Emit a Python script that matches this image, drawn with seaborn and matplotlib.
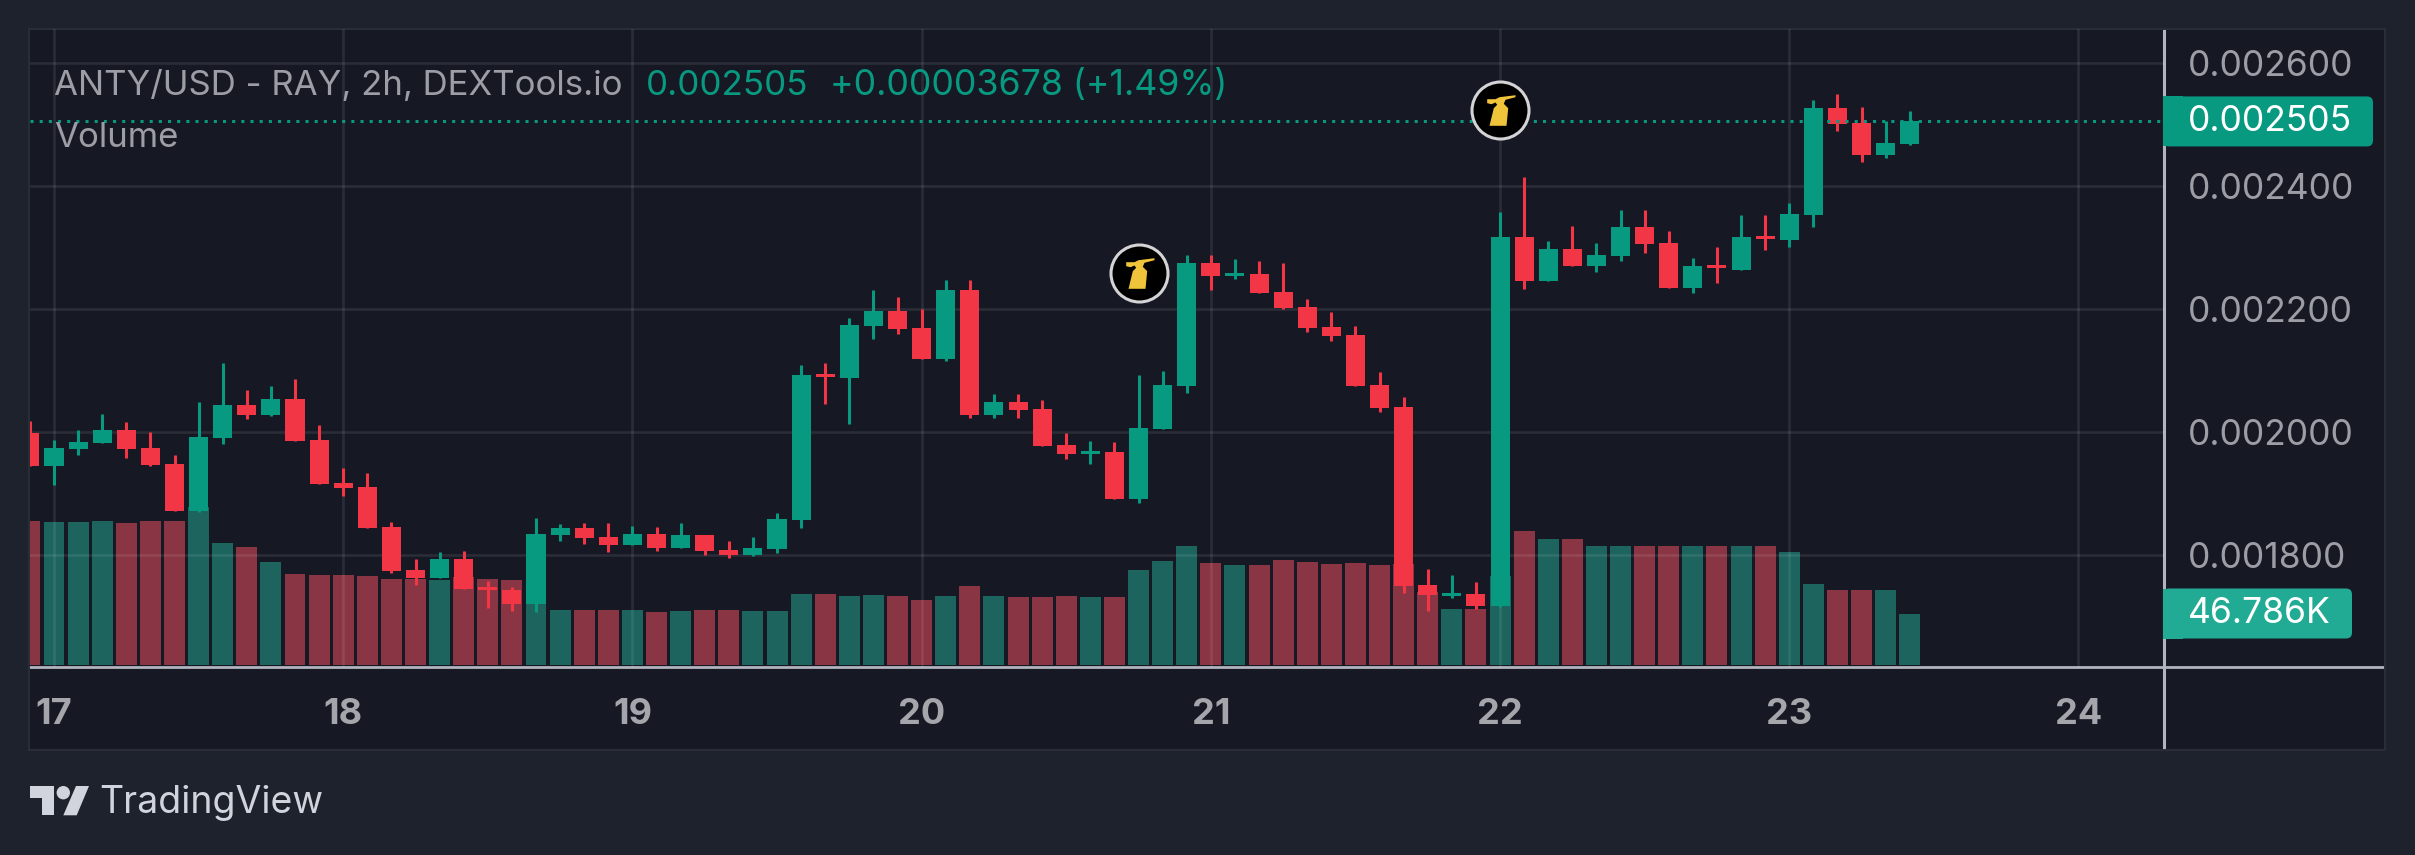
import numpy as np
import pandas as pd
import matplotlib
matplotlib.use("Agg")
import matplotlib.pyplot as plt
import seaborn as sns
from matplotlib.patches import FancyBboxPatch, Polygon, Circle
from matplotlib.path import Path
from matplotlib.transforms import IdentityTransform
from matplotlib.ticker import FuncFormatter

# --------------------------
# Data (prices in 1e-6 USD, volume in K)
# --------------------------
candle_x = list(range(-1, 78))

opens = [1998.4, 1944.8, 1972.4, 1982.2, 2003.3, 1974.0, 1948.0, 1871.6, 1990.3, 2044.0, 2027.7,
         2053.7, 1987.0, 1917.1, 1910.6, 1845.6, 1775.7, 1762.7, 1793.5, 1748.0, 1743.1, 1720.4,
         1832.6, 1844.0, 1829.3, 1816.3, 1834.2, 1811.4, 1832.6, 1808.2, 1800.1, 1809.8, 1857.0,
         2094.3, 2087.8, 2172.4, 2196.8, 2169.1, 2118.7, 2230.9, 2027.7, 2048.8, 2037.4, 1978.9,
         1964.2, 1967.5, 1891.1, 2004.9, 2074.8, 2274.8, 2253.7, 2256.9, 2227.6, 2203.3, 2170.7,
         2157.7, 2076.4, 2040.7, 1751.2, 1733.4, 1736.6, 1716.9, 2316.8, 2245.5, 2297.5, 2269.9,
         2286.0, 2333.6, 2307.2, 2233.9, 2271.8, 2263.5, 2318.8, 2312.3, 2352.8, 2527.1, 2502.7,
         2450.6, 2468.6]
closes = [1944.8, 1974.0, 1983.8, 2003.3, 1972.4, 1946.4, 1871.6, 1991.9, 2044.0, 2027.7, 2053.7,
          1985.4, 1915.5, 1909.0, 1844.0, 1774.0, 1762.7, 1793.5, 1744.8, 1743.1, 1720.4, 1834.2,
          1844.0, 1827.7, 1816.3, 1834.2, 1811.4, 1832.6, 1806.6, 1800.1, 1811.4, 1858.6, 2092.7,
          2089.4, 2174.0, 2196.8, 2167.5, 2118.7, 2230.9, 2027.7, 2048.8, 2035.8, 1977.2, 1964.2,
          1969.1, 1891.1, 2006.5, 2076.4, 2274.8, 2253.7, 2258.5, 2226.0, 2201.6, 2169.1, 2156.1,
          2074.8, 2039.0, 1749.6, 1735.0, 1738.2, 1717.1, 2316.8, 2245.5, 2297.5, 2269.9, 2287.9,
          2333.6, 2305.9, 2233.9, 2269.9, 2267.3, 2316.8, 2313.6, 2354.8, 2527.1, 2501.4, 2450.6,
          2469.9, 2505.0]
highs = [2017.9, 1987.0, 2003.3, 2029.3, 2016.3, 2000.0, 1962.6, 2048.8, 2111.4, 2068.3, 2074.8,
         2086.0, 2011.4, 1941.5, 1933.4, 1853.7, 1793.5, 1804.9, 1806.6, 1757.8, 1748.0, 1860.2,
         1850.5, 1852.1, 1852.1, 1847.2, 1845.6, 1852.1, 1832.6, 1822.8, 1829.3, 1868.3, 2109.0,
         2112.2, 2185.4, 2230.9, 2219.5, 2200.0, 2247.2, 2247.2, 2061.8, 2061.8, 2052.0, 1998.4,
         1985.4, 1983.8, 2092.7, 2099.2, 2287.8, 2287.8, 2281.3, 2278.1, 2274.8, 2216.3, 2195.1,
         2172.4, 2097.6, 2056.9, 1777.2, 1767.5, 1756.1, 2358.0, 2414.6, 2310.4, 2334.8, 2307.2,
         2361.2, 2361.2, 2327.1, 2282.8, 2300.8, 2352.8, 2352.8, 2372.1, 2540.0, 2549.6, 2528.4,
         2505.2, 2522.0]
lows = [1944.8, 1913.9, 1962.6, 1982.2, 1957.8, 1944.8, 1871.6, 1870.0, 1980.5, 2021.2, 2026.1,
        1985.4, 1915.5, 1896.0, 1844.0, 1770.8, 1751.3, 1762.7, 1744.8, 1713.9, 1709.0, 1707.4,
        1822.8, 1817.9, 1804.9, 1816.3, 1806.6, 1811.4, 1800.1, 1795.2, 1798.4, 1803.3, 1843.9,
        2045.5, 2013.0, 2151.2, 2159.4, 2118.7, 2115.5, 2022.8, 2022.8, 2022.8, 1977.2, 1956.1,
        1948.0, 1891.1, 1884.6, 2004.9, 2063.4, 2230.9, 2248.8, 2226.0, 2200.0, 2162.6, 2148.0,
        2074.8, 2032.5, 1738.2, 1709.0, 1730.1, 1712.2, 1715.0, 2232.6, 2245.5, 2269.9, 2260.2,
        2278.3, 2291.1, 2233.9, 2226.2, 2242.3, 2263.5, 2295.6, 2300.8, 2333.6, 2489.2, 2439.0,
        2445.4, 2466.7]
volumes = [129.6, 128.7, 128.7, 129.6, 127.8, 129.6, 129.6, 142.2, 109.8, 106.2, 92.7, 81.9, 81.0,
           81.0, 80.1, 77.4, 77.4, 76.5, 79.2, 77.4, 76.5, 60.3, 49.5, 49.5, 49.5, 49.5, 47.7, 48.6,
           49.5, 49.5, 48.6, 48.6, 63.9, 63.9, 62.1, 63.0, 62.1, 58.5, 62.1, 71.1, 62.1, 61.2, 61.2,
           62.1, 61.2, 61.2, 85.5, 93.6, 107.1, 91.8, 90.0, 90.0, 94.5, 92.7, 90.9, 91.8, 90.0, 90.9,
           65.7, 51.2, 50.5, 80.1, 121.4, 113.5, 114.2, 107.1, 107.8, 107.1, 107.8, 107.8, 107.1,
           107.8, 107.1, 101.8, 73.7, 68.3, 67.6, 68.3, 46.786]

day_labels = ["17", "18", "19", "20", "21", "22", "23", "24"]
price_ticks = [1800, 2000, 2200, 2400, 2600]
marker_x = [45, 60]
marker_y = [2259, 2523.6]
last_price_label = "0.002505"
last_volume_label = "46.786K"

# --------------------------
# Colours
# --------------------------
FIG_BG = "#1E222D"
PANE = "#161924"
BORDER = "#2A2E39"
GREEN = "#089981"
RED = "#F23645"
VOL_GREEN = "#1D635E"
VOL_RED = "#8A3543"
AXIS = "#B2B5BE"
TXT = "#9C9DA5"

sns.set_theme(style="dark")
plt.rcParams["font.family"] = ["Inter", "DejaVu Sans"]


def fx(px):
    return px / 2415


def fy(px):
    return 1 - px / 855


def rect(x0, y0, x1, y1):
    return [fx(x0), fy(y1), fx(x1) - fx(x0), fy(y0) - fy(y1)]


fig = plt.figure(figsize=(24.15, 8.55), dpi=100, facecolor=FIG_BG)

# background pane with the axis cross lines
ax_bg = fig.add_axes(rect(29, 29, 2385, 750), facecolor=PANE)
ax_bg.set_xlim(29, 2385)
ax_bg.set_ylim(750, 29)
ax_bg.set_xticks([])
ax_bg.set_yticks([])
for s in ax_bg.spines.values():
    s.set_color(BORDER)
    s.set_linewidth(1.4)
ax_bg.axhline(667, color=AXIS, lw=2.0)
ax_bg.axvline(2164, color=AXIS, lw=2.2)

# --------------------------
# Volume
# --------------------------
df = pd.DataFrame({"x": candle_x, "volume": volumes, "open": opens, "close": closes})
df["dir"] = np.where(df["close"] >= df["open"], "up", "down")

ax_vol = fig.add_axes(rect(30, 29, 2164, 667), facecolor="none")
sns.barplot(data=df, x="x", y="volume", hue="dir", palette={"up": VOL_GREEN, "down": VOL_RED},
            native_scale=True, dodge=False, width=0.87, saturation=1, errorbar=None,
            legend=False, linewidth=0, ax=ax_vol)
ax_vol.set_xlim(-0.996, 87.55)
ax_vol.set_ylim(-1.35, 572.85)
ax_vol.axis("off")

# --------------------------
# Candles
# --------------------------
ax = fig.add_axes(rect(30, 29, 2164, 667), facecolor="none")
o = np.array(opens) / 1e6
c = np.array(closes) / 1e6
h = np.array(highs) / 1e6
l = np.array(lows) / 1e6
x = np.array(candle_x)
colors = [GREEN if cc >= oo else RED for oo, cc in zip(o, c)]
ax.vlines(x, l, h, colors=colors, lw=2.2, zorder=3)
ax.bar(x, np.abs(c - o), bottom=np.minimum(o, c), width=0.79, color=colors, lw=0, zorder=4)

ax.set_xlim(-0.996, 87.55)
ax.set_ylim(1617.9 / 1e6, 2655.3 / 1e6)
ax.set_xticks([i * 12 for i in range(len(day_labels))])
ax.set_xticklabels(day_labels, fontsize=26, fontweight="bold", color="#A5A6AC")
ax.set_yticks([p / 1e6 for p in price_ticks])
ax.yaxis.set_major_formatter(FuncFormatter(lambda v, _: f"{v:.6f}"))
ax.yaxis.tick_right()
ax.tick_params(axis="x", length=0, pad=22)
ax.tick_params(axis="y", length=0, pad=17, labelsize=25.5, labelcolor=TXT)
ax.grid(True, color="white", alpha=0.085, lw=1.9, zorder=1)
for s in ax.spines.values():
    s.set_visible(False)

# last price line
ax.axhline(c[-1], color=GREEN, lw=2.2, ls=(0, (1.0, 2.0)), zorder=5, xmax=0.998)

# trade markers
glyph = Path([(-13.3, 11.3), (-5, 11.3), (-1, 13.3), (15, 15.3), (15, 13.3), (5, 10.7), (3.3, 6.7),
              (7.7, 2.3), (6, -15.3), (-11, -15.3), (-6.7, 2.3), (-3.3, 5.7), (-5, 8), (-9, 6.3),
              (-13.3, 7.3), (-13.3, 11.3)], closed=True)
ax.scatter(marker_x, [m / 1e6 for m in marker_y], s=(57 * 0.72) ** 2, color="black",
           edgecolors="#D4D4D6", linewidths=2.2, zorder=6)
ax.scatter(marker_x, [m / 1e6 for m in marker_y], s=(30.6 * 0.72) ** 2, marker=glyph,
           color="#F0C43A", linewidths=0, zorder=7)

# --------------------------
# Header text
# --------------------------
fig.text(fx(54), fy(86), "ANTY/USD - RAY, 2h, DEXTools.io", fontsize=25.05, color=TXT, va="center", zorder=8)
fig.text(fx(646), fy(86), "0.002505", fontsize=25.2, color=GREEN, va="center", zorder=8)
fig.text(fx(830), fy(86), "+0.00003678 (+1.49%)", fontsize=25.7, color=GREEN, va="center", zorder=8)
fig.text(fx(54), fy(138), "Volume", fontsize=25.05, color=TXT, va="center", zorder=8)


# --------------------------
# Right-hand value tags
# --------------------------
def value_tag(y_center_px, x_right, label, color):
    y0 = 855 - (y_center_px + 25)
    fig.add_artist(FancyBboxPatch((2163 + 6, y0 + 6), x_right - 2163 - 12, 38,
                                  boxstyle="round,pad=6,rounding_size=6", fc=color, ec="none",
                                  transform=IdentityTransform(), zorder=6))
    fig.add_artist(plt.Rectangle((2163, y0), 20, 50, fc=color, ec="none",
                                 transform=IdentityTransform(), zorder=6))
    fig.text(fx(2188), fy(y_center_px), label, fontsize=25.5, color="white", va="center", zorder=8)


fig.canvas.draw()
last_y = 855 - ax.transData.transform((0, c[-1]))[1]
value_tag(last_y, 2373, last_price_label, GREEN)
value_tag(613.5, 2352, last_volume_label, "#22AB94")

# --------------------------
# TradingView logo
# --------------------------
logo = "#D1D4DC"
fig.add_artist(Polygon([(fx(30), fy(786)), (fx(54.3), fy(786)), (fx(54.3), fy(815.3)), (fx(41.7), fy(815.3)),
                        (fx(41.7), fy(797.7)), (fx(30), fy(797.7))], fc=logo, ec="none",
                       transform=fig.transFigure))
fig.add_artist(Circle((63.3, 855 - 792.7), 6.7, fc=logo, ec="none", transform=IdentityTransform()))
fig.add_artist(Polygon([(fx(76), fy(786)), (fx(89), fy(786)), (fx(76.7), fy(815.3)), (fx(63.3), fy(815.3))],
                       fc=logo, ec="none", transform=fig.transFigure))
fig.text(fx(99), fy(803), "TradingView", fontsize=27, color=logo, va="center")

fig.savefig("out.png", dpi=100, facecolor=FIG_BG)
